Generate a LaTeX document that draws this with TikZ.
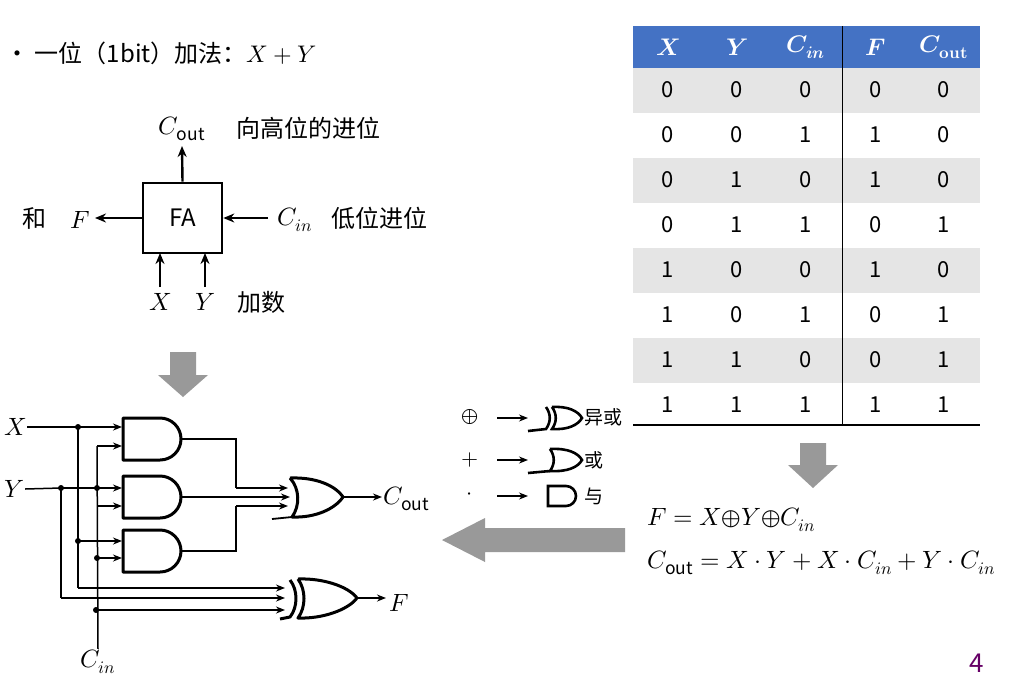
\documentclass[tikz,border=0pt]{standalone}
\usepackage{fontspec}
\usepackage{unicode-math}
\setmainfont{Noto Sans CJK SC}
\setmathfont{Latin Modern Math}
\usetikzlibrary{arrows.meta}
\definecolor{hdr}{RGB}{68,114,196}
\begin{document}
\begin{tikzpicture}[x=1pt,y=-1pt,
  w/.style={line width=1.5pt},
  g/.style={line width=3pt,line join=round},
  ar/.style={w,-{Stealth[length=9pt,width=7pt]}},
  ar2/.style={line width=2.4pt,-{Stealth[length=11pt,width=9pt]}},
  dot/.style={circle,fill,inner sep=0pt,minimum size=6pt},
  m/.style={font=\fontsize{25}{28}\selectfont,inner sep=1pt},
  cn/.style={font=\fontsize{24}{27}\selectfont},
  big/.style={fill=black!40,draw=none}]
\useasboundingbox (0,0) rectangle (1009,686);
% title
\node[anchor=west,font=\fontsize{24}{26}\selectfont] (title) at (2,53) {•\ 一位（1bit）加法：$X+Y$};
% FA
\node[draw,line width=2.6pt,minimum width=79pt,minimum height=70pt,font=\fontsize{24}{26}\selectfont,inner sep=0pt] (fa) at (182.5,218) {FA};
\node[m] (cout) at (182,129) {$C_{\mathrm{out}}$};
\node[cn,anchor=west] at (233,128) {向高位的进位};
\draw[ar2] (fa.north) -- (182,146);
\node[m] (Fl) at (80,220) {$F$};
\node[cn] at (35,218) {和};
\draw[ar2] (fa.west) -- (95,218);
\node[m,anchor=west] (cin) at (276,220) {$C_{in}$};
\node[cn,anchor=west] at (328,218) {低位进位};
\draw[ar2] (268,218) -- (fa.east);
\node[m] (xl) at (160,302) {$X$};
\node[m] (yl) at (205,302) {$Y$};
\node[cn,anchor=west] at (234,302) {加数};
\coordinate (xa) at (160,287); \coordinate (ya) at (205,287);
\draw[ar2] (xa) -- (160,253); \draw[ar2] (ya) -- (205,253);
% gray arrows
\fill[big] (170,352) -- (196,352) -- (196,375) -- (208,375) -- (183,397) -- (158,375) -- (170,375) -- cycle;
\fill[big] (800,443) -- (826,443) -- (826,465) -- (838,465) -- (813,488) -- (788,465) -- (800,465) -- cycle;
\fill[big] (625,528) -- (485,528) -- (485,518) -- (442,540) -- (485,562) -- (485,552) -- (625,552) -- cycle;
% table
\fill[hdr] (633,26) rectangle (980,68);
\foreach \r in {0,2,4,6}{\fill[black!10] (633,68+\r*45) rectangle (980,113+\r*45);}
\draw[line width=1pt] (842,26) -- (842,425);
\draw[line width=1.5pt] (633,425) -- (980,425);
\foreach \h [count=\i] in {\symbfit{X},\symbfit{Y},\symbfit{C}_{\symbfit{in}},\symbfit{F},\symbfit{C}_{\symbf{out}}}{
  \pgfmathsetmacro\xx{{0,668,737,806,876,944}[\i]}
  \node[text=white,font=\fontsize{24}{26}\selectfont] at (\xx,47) {$\h$};}
\foreach \a/\b/\c/\f/\o [count=\r] in {0/0/0/0/0,0/0/1/1/0,0/1/0/1/0,0/1/1/0/1,1/0/0/1/0,1/0/1/0/1,1/1/0/0/1,1/1/1/1/1}{
  \foreach \v/\xx in {\a/668,\b/737,\c/806,\f/876,\o/944}{
    \node[font=\fontsize{22}{24}\selectfont] at (\xx,45+\r*45) {\v};}}
% equations
\node[m,anchor=west] (e1) at (646,520) {$F=X{\oplus}Y{\oplus}C_{in}$};
\node[m,anchor=west] (e2) at (646,563) {$C_{\mathrm{out}}=X\cdot Y+X\cdot C_{in}+Y\cdot C_{in}$};
\node[text=violet!80!black,font=\fontsize{26}{28}\selectfont] at (977,663) {4};
% legend
\node[font=\fontsize{22}{24}\selectfont] at (470,417) {$\oplus$};
\node[font=\fontsize{22}{24}\selectfont] at (470,460) {$+$};
\node[font=\fontsize{22}{24}\selectfont] at (470,496) {$\cdot$};
\foreach \y in {418,460,496}{\draw[ar,line width=1.2pt] (497,\y) -- (528,\y);}
\begin{scope}[shift={(548,407)}]
 \draw[line width=2.6pt] (4,0) .. controls (20,-1) and (30,4) .. (34,11) .. controls (30,18) and (20,23) .. (4,22) .. controls (9,15) and (9,7) .. (4,0);
 \draw[line width=2.6pt] (-2,0) .. controls (3,7) and (3,15) .. (-2,22) -- (-20,24);
\end{scope}
\begin{scope}[shift={(550,449)}]
 \draw[line width=2.6pt] (0,0) .. controls (18,-1) and (28,4) .. (32,11) .. controls (28,18) and (18,23) .. (0,22) .. controls (5,15) and (5,7) .. (0,0);
 \draw[line width=2.6pt] (0,22) -- (-22,24);
\end{scope}
\draw[line width=2.6pt] (548,486) -- (566,486) arc(-90:90:10) -- (548,506) -- cycle;
\node[font=\fontsize{19}{21}\selectfont,anchor=west] at (581,417) {异或};
\node[font=\fontsize{19}{21}\selectfont,anchor=west] at (581,460) {或};
\node[font=\fontsize{19}{21}\selectfont,anchor=west] at (581,496) {与};
% circuit
\node[m] (X) at (15,427) {$X$};
\node[m] (Y) at (14,489) {$Y$};
\node[m] (Cin) at (98,662) {$C_{in}$};
% AND gates
\foreach \t in {418,476,530}{\draw[g] (123,\t) -- (160,\t) arc(-90:90:21) -- (123,\t+42) -- cycle;}
% OR gate
\draw[g] (290,478) .. controls (315,477) and (335,485) .. (343,497) .. controls (335,509) and (315,518) .. (292,517) .. controls (300,506) and (300,489) .. (290,478);
\draw[line width=1.8pt] (292,517) -- (272,519);
% XOR gate
\draw[g] (298,579) .. controls (322,578) and (348,586) .. (357,598) .. controls (348,610) and (322,619) .. (298,618) .. controls (306,607) and (306,590) .. (298,579);
\draw[g] (290,580) .. controls (298,590) and (298,607) .. (290,617) -- (280,619);
% wires
\draw[w] (X.east) -- (78,427);
\draw[ar] (78,427) -- (122,427);
\draw[w] (Y.east) -- (61,488);
\draw[ar] (61,488) -- (122,488);
\draw[w] (78,427) -- (78,588); \draw[ar] (78,588) -- (285,588);
\draw[w] (61,488) -- (61,598); \draw[ar] (61,598) -- (285,598);
\draw[w] (Cin.north) -- (97,446); \draw[ar] (97,446) -- (122,446);
\draw[ar] (97,506) -- (122,506);
\draw[ar] (78,541) -- (122,541);
\draw[ar] (97,558) -- (122,558);
\draw[ar] (96,610) -- (285,610);
\draw[w] (181,439) -- (236,439) -- (236,488); \draw[ar] (236,488) -- (288,488);
\draw[ar] (181,497) -- (290,497);
\draw[w] (181,551) -- (236,551) -- (236,506); \draw[ar] (236,506) -- (288,506);
\draw[ar] (343,497) -- (382,497);
\node[m,anchor=west] (Co) at (382,499) {$C_{\mathrm{out}}$};
\draw[ar] (357,598) -- (386,598);
\node[m,anchor=west] (Fo) at (388,603) {$F$};
\foreach \p in {(78,427),(61,488),(97,488),(78,541),(97,558),(96,610)}{\node[dot] at \p {};}
\end{tikzpicture}
\end{document}
